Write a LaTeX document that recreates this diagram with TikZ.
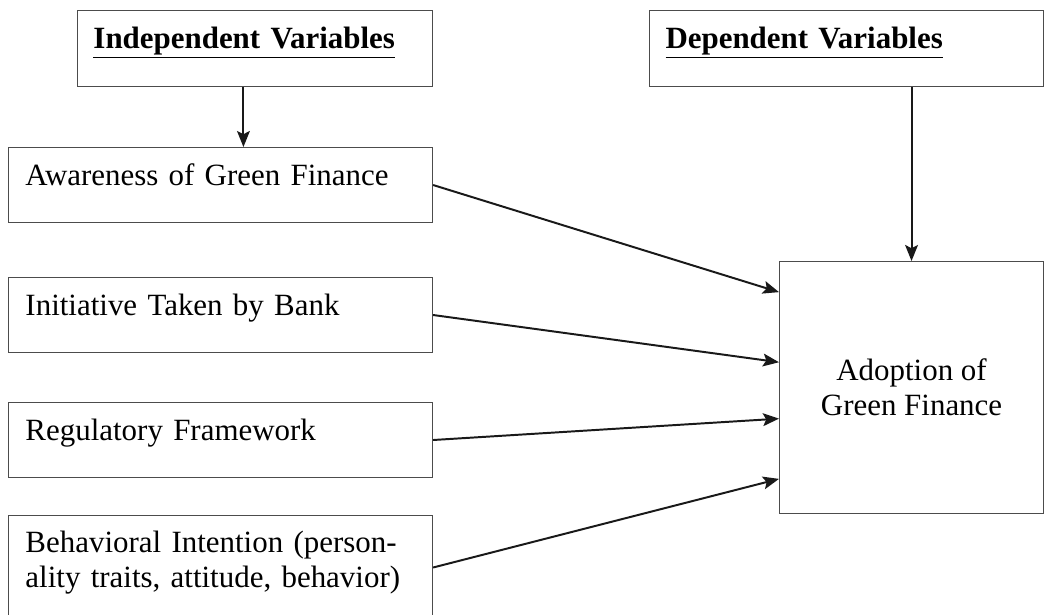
\documentclass[tikz,border=0pt]{standalone}
\usepackage{fontspec}
\setmainfont{Liberation Serif}
\usetikzlibrary{calc, arrows.meta}

\begin{document}
\begin{tikzpicture}[
  x = 0.025cm, y = -0.025cm,
  every node/.style = {draw = black!70, line width = 0.7pt, inner sep = 0pt,
    font = \fontsize{22}{25}\selectfont},
  varbox/.style = {anchor = north west, align = left, inner xsep = 0.4cm,
    text height = 0.95cm, text depth = 0.95cm},
  factor/.style = {anchor = north west, align = left, inner xsep = 0.425cm,
    text width = 9.75cm, text height = 0.9375cm, text depth = 0.9375cm},
  link/.style = {draw = black!90, line width = 1.4pt,
    -{Stealth[length = 0.4cm, width = 0.32cm, inset = 0.08cm]}}
]
\useasboundingbox (0,0) rectangle (1044,614);

% headings
\node[varbox, text width = 8.075cm](IV) at (77,10)
  {\textbf{\underline{Independent Variables}}};
\node[varbox, text width = 9.05cm](DV) at (649,10)
  {\textbf{\underline{Dependent Variables}}};

% independent factors
\node[factor](A1) at (8,147) {Awareness of Green Finance};
\node[factor](A2) at (8,277) {Initiative Taken by Bank};
\node[factor](A3) at (8,402) {Regulatory Framework};
\node[factor, text height = 0.925cm, text depth = 1.675cm](A4) at (8,515)
  {\hyphenpenalty=10000 Behavioral Intention (person-\\ality traits, attitude, behavior)};

% dependent
\node[anchor = north west, align = center, minimum width = 6.6cm,
  minimum height = 6.3cm](Y) at (779,261) {Adoption of\\Green Finance};

% arrows
\draw[link] ([xshift = -0.29cm]IV.south) -- ([xshift = -0.29cm]IV.south |- A1.north);
\draw[link] (DV.south -| Y.north) -- (Y.north);
\draw[link] (A1.east) -- ($(Y.north west)!0.123!(Y.south west)$);
\draw[link] (A2.east) -- ($(Y.north west)!0.400!(Y.south west)$);
\draw[link] (A3.east) -- ($(Y.north west)!0.623!(Y.south west)$);
\draw[link] (A4.east) -- ($(Y.north west)!0.861!(Y.south west)$);

\end{tikzpicture}
\end{document}
